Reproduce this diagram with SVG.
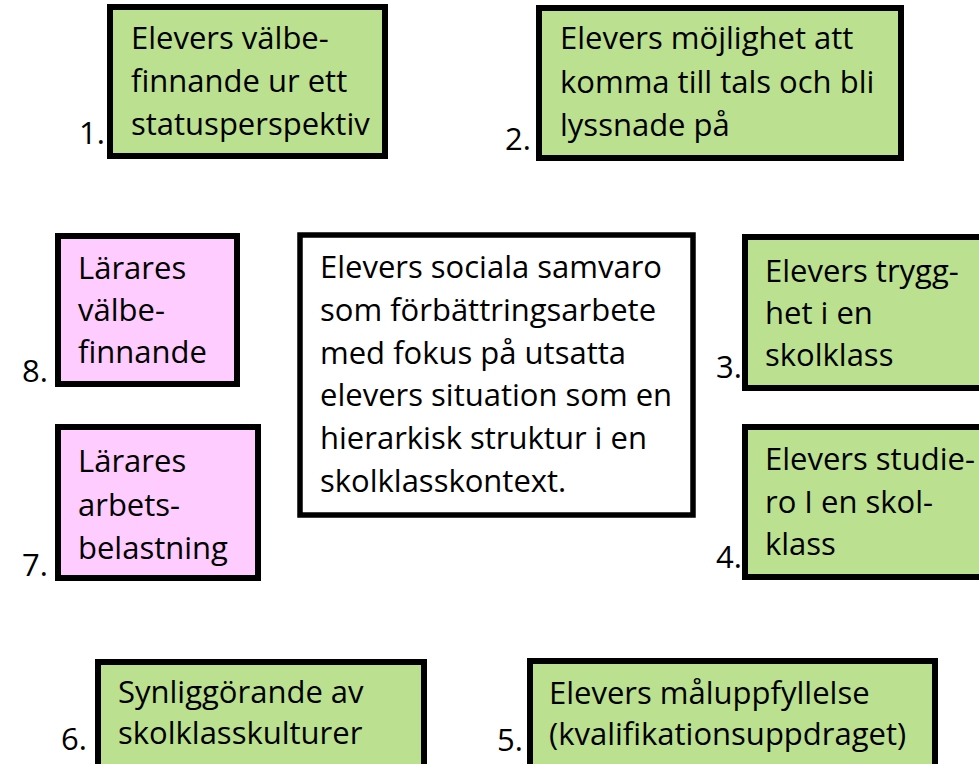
<svg xmlns="http://www.w3.org/2000/svg" width="979" height="764" viewBox="0 0 979 764">
<style>
.g{fill:#BBE08F;stroke:#000;stroke-width:6}
.p{fill:#FFCCFF;stroke:#000;stroke-width:6}
.w{fill:#FFFFFF;stroke:#000;stroke-width:5.5}
text{font-family:"Open Sans","Liberation Sans",sans-serif;font-size:31px;fill:#000;font-variant-ligatures:none}
</style>
<rect width="979" height="764" fill="#fff"/>
<g id="n1">
<rect class="g" x="110" y="7" width="275" height="149"/>
<text x="131" y="49">Elevers välbe-</text>
<text x="131" y="92">finnande ur ett</text>
<text x="131" y="135">statusperspektiv</text>
<text x="79" y="144">1.</text>
</g>
<g id="n2">
<rect class="g" x="539" y="8" width="362" height="150"/>
<text x="560" y="49">Elevers möjlighet att</text>
<text x="560" y="93">komma till tals och bli</text>
<text x="560" y="136">lyssnade på</text>
<text x="505" y="150">2.</text>
</g>
<g id="n8">
<rect class="p" x="58" y="236" width="179" height="148"/>
<text x="78" y="279">Lärares</text>
<text x="78" y="321">välbe-</text>
<text x="78" y="363">finnande</text>
<text x="22" y="382">8.</text>
</g>
<g id="n7">
<rect class="p" x="58" y="427" width="200" height="151"/>
<text x="78" y="472">Lärares</text>
<text x="78" y="516">arbets-</text>
<text x="78" y="559">belastning</text>
<text x="22" y="576">7.</text>
</g>
<g id="center">
<rect class="w" x="300" y="235" width="393" height="280"/>
<text x="320" y="278">Elevers sociala samvaro</text>
<text x="320" y="321">som förbättringsarbete</text>
<text x="320" y="364">med fokus på utsatta</text>
<text x="320" y="406">elevers situation som en</text>
<text x="320" y="449">hierarkisk struktur i en</text>
<text x="320" y="492">skolklasskontext.</text>
</g>
<g id="n3">
<rect class="g" x="745" y="237" width="237" height="151"/>
<text x="765" y="282">Elevers trygg-</text>
<text x="765" y="324">het i en</text>
<text x="765" y="366">skolklass</text>
<text x="716" y="378">3.</text>
</g>
<g id="n4">
<rect class="g" x="745" y="427" width="237" height="150"/>
<text x="765" y="470">Elevers studie-</text>
<text x="765" y="513">ro I en skol-</text>
<text x="765" y="555">klass</text>
<text x="716" y="568">4.</text>
</g>
<g id="n6">
<rect class="g" x="98" y="662" width="326" height="120"/>
<text x="118" y="703">Synliggörande av</text>
<text x="118" y="744">skolklasskulturer</text>
<text x="61" y="750">6.</text>
</g>
<g id="n5">
<rect class="g" x="530" y="661" width="405" height="120"/>
<text x="549" y="704">Elevers måluppfyllelse</text>
<text x="549" y="745">(kvalifikationsuppdraget)</text>
<text x="497" y="751">5.</text>
</g>
<g id="connectors"></g>
</svg>
